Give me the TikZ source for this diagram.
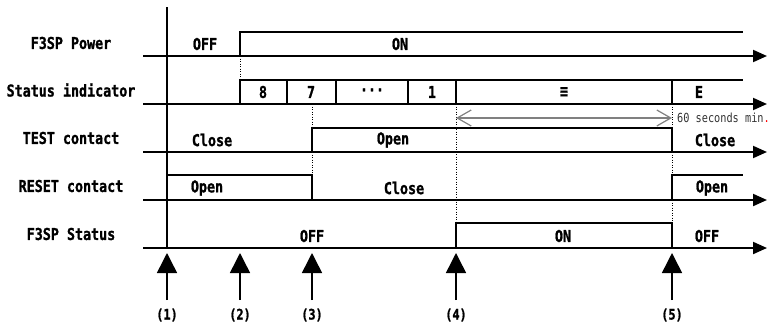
\documentclass[tikz,border=0pt]{standalone}
\usepackage{fontspec}
\newfontfamily\gfont{DejaVu Sans Mono}[FakeStretch=0.82, BoldFeatures={FakeBold=1.2}]
\usetikzlibrary{arrows.meta}
\begin{document}
\begin{tikzpicture}[x=1pt,y=-1pt,
  axisline/.style={line width=2pt, -{Triangle[length=14pt,width=12pt]}},
  level/.style={line width=1.5pt},
  vdots/.style={line width=1pt, dash pattern=on 1pt off 1.5pt},
  lbl/.style={font=\gfont\bfseries\fontsize{16.3}{16.3}\selectfont, inner sep=0pt},
  evlbl/.style={font=\gfont\bfseries\fontsize{14.5}{14.5}\selectfont, inner sep=0pt},
  small/.style={font=\gfont\fontsize{12.5}{12.5}\selectfont, inner sep=0pt, text=black!80},
  evt/.style={line width=1.5pt, -{Triangle[length=20pt,width=20pt]}},
  dim/.style={line width=1.2pt, draw=black!50, {Straight Barb[length=14pt,width=16pt]}-{Straight Barb[length=14pt,width=16pt]}},
]
\useasboundingbox (0,0) rectangle (773,324);
% baselines
\foreach \yy/\nm in {56/pw,104/si,152/te,200/re,248/st}{
  \coordinate (\nm L) at (143,\yy);
  \coordinate (\nm R) at (767,\yy);
  \draw[axisline] (\nm L) -- (\nm R);
}
% vertical axis
\coordinate (axT) at (167,7);
\coordinate (axB) at (167,248);
\draw[line width=2pt] (axT) -- (axB);
% F3SP Power
\draw[level] (240,56) -- (240,32) -- (743,32);
% Status indicator
\draw[level] (240,104) -- (240,80) -- (743,80);
\foreach \xx in {287,336,408,456,672} \draw[level] (\xx,80) -- (\xx,104);
% TEST
\draw[level] (312,152) -- (312,128) -- (672,128) -- (672,152);
% RESET
\draw[level] (167,175) -- (312,175) -- (312,200);
\draw[level] (672,200) -- (672,175) -- (743,175);
% F3SP Status
\draw[level] (456,248) -- (456,223) -- (672,223) -- (672,248);
% dotted
\draw[vdots] (240,56) -- (240,80);
\draw[vdots] (312,104) -- (312,128);
\draw[vdots] (312,152) -- (312,175);
\draw[vdots] (456,104) -- (456,223);
\draw[vdots] (672,104) -- (672,128);
\draw[vdots] (672,152) -- (672,175);
\draw[vdots] (672,200) -- (672,223);
% dimension
\coordinate (d1) at (456,118);
\coordinate (d2) at (672,118);
\draw[dim] (d1) -- (d2);
\node[small, anchor=west] (dimtxt) at (677,118) {60 seconds min\textcolor{red}{.}};
% row labels
\node[lbl] (lpw) at (71,43) {F3SP Power};
\node[lbl] (lsi) at (71,90) {Status indicator};
\node[lbl] (lte) at (71,138) {TEST contact};
\node[lbl] (lre) at (71,186) {RESET contact};
\node[lbl] (lst) at (71,234) {F3SP Status};
% value labels
\node[lbl] (p1) at (205,44) {OFF};
\node[lbl] (p2) at (400,44) {ON};
\node[lbl] (s8) at (263,92) {8};
\node[lbl] (s7) at (311,92) {7};
\node[lbl] (sd) at (372,92) {\textperiodcentered\textperiodcentered\textperiodcentered};
\node[lbl] (s1) at (432,92) {1};
\node[lbl] (se) at (564,92) {≡};
\node[lbl] (sE) at (699,92) {E};
\node[lbl] (c1) at (212,140) {Close};
\node[lbl] (c2) at (393,140) {Open};
\node[lbl] (c3) at (715,140) {Close};
\node[lbl] (r1) at (207,188) {Open};
\node[lbl] (r2) at (404,188) {Close};
\node[lbl] (r3) at (712,188) {Open};
\node[lbl] (f1) at (312,236) {OFF};
\node[lbl] (f2) at (563,236) {ON};
\node[lbl] (f3) at (707,236) {OFF};
% events
\foreach \xx/\n in {167/1,240/2,312/3,456/4,672/5}{
  \coordinate (eb\n) at (\xx,300);
  \coordinate (et\n) at (\xx,253);
  \draw[evt] (eb\n) -- (et\n);
  \node[evlbl] (el\n) at (\xx,315) {(\n)};
}
\end{tikzpicture}
\end{document}
